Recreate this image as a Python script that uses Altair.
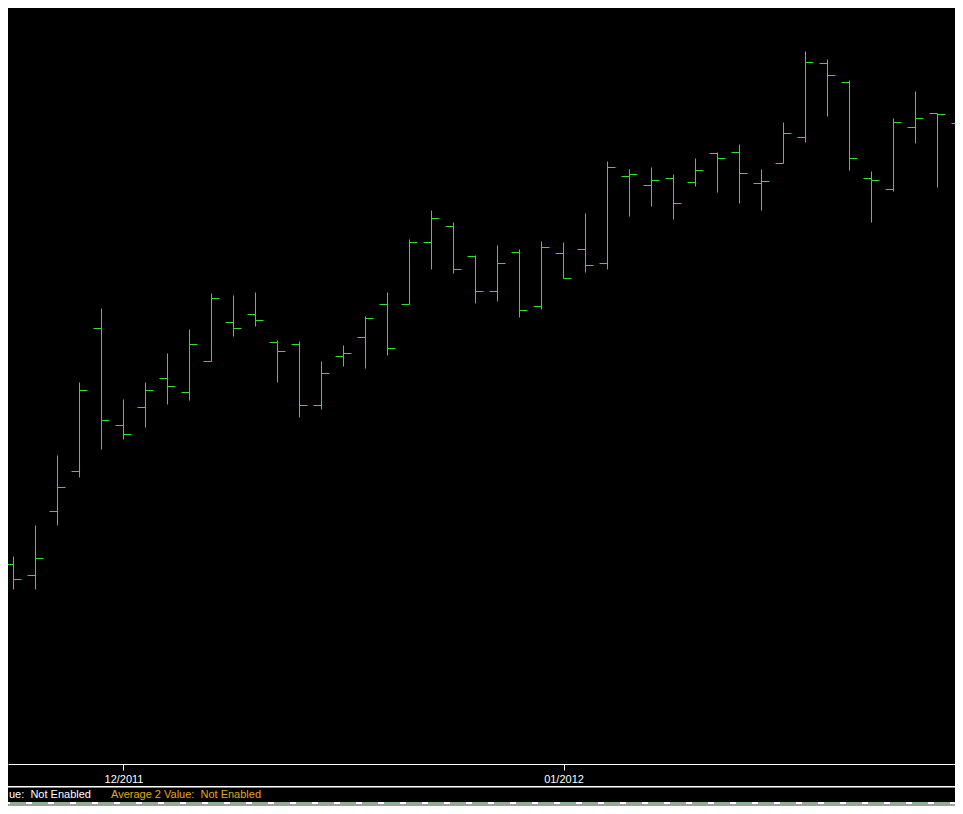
import altair as alt
import pandas as pd

# ---- data ----
bar_index = list(range(44))
opens = [43.5, 42.4, 48.8, 52.8, 67.1, 57.4, 59.2, 62.1, 60.7, 63.8,
         67.7, 68.5, 65.7, 65.5, 59.4, 64.3, 66.2, 69.5, 69.5, 75.7,
         77.3, 74.3, 70.8, 74.7, 69.3, 74.6, 75.0, 73.6, 82.3, 81.4,
         82.1, 81.7, 84.6, 84.7, 81.6, 83.6, 86.2, 93.6, 91.7, 82.1,
         81.0, 87.2, 88.6, 87.6]
highs = [44.3, 47.4, 54.4, 61.7, 69.1, 60.0, 61.7, 64.6, 67.0, 70.6,
         70.4, 70.7, 65.9, 65.8, 63.8, 65.4, 68.3, 70.7, 76.0, 78.9,
         77.7, 74.4, 75.4, 75.0, 75.8, 75.7, 78.6, 83.8, 83.0, 83.2,
         82.5, 84.1, 84.7, 85.5, 83.0, 87.7, 94.8, 94.0, 91.9, 82.8,
         88.1, 90.8, 88.6, 90.2]
lows = [41.0, 41.0, 47.4, 52.2, 55.0, 56.0, 57.2, 59.5, 59.9, 63.8,
        66.3, 67.3, 61.7, 58.2, 59.0, 63.3, 63.1, 64.4, 69.5, 73.0,
        72.6, 69.6, 69.8, 68.2, 69.0, 72.1, 72.7, 73.0, 78.3, 79.3,
        78.0, 81.3, 80.7, 79.6, 78.9, 83.6, 85.7, 88.3, 82.9, 77.7,
        80.8, 85.6, 81.2, 86.2]
closes = [42.0, 44.1, 51.2, 60.9, 57.9, 56.5, 60.9, 61.3, 65.5, 70.1,
          67.1, 67.9, 64.8, 59.4, 62.6, 64.6, 68.1, 65.1, 75.7, 78.1,
          73.0, 70.8, 73.6, 68.9, 75.2, 72.1, 73.4, 83.2, 82.5, 81.9,
          79.6, 82.9, 84.1, 82.6, 81.8, 86.6, 93.7, 92.4, 84.1, 81.9,
          87.7, 88.1, 88.5, 88.1]
tick_index = [5, 25]
tick_labels = ["12/2011", "01/2012"]
status_labels = ["ue:\u00a0 Not Enabled", "Average 2 Value:\u00a0 Not Enabled"]
status_colors = ["#ffffff", "#e0a818"]

df = pd.DataFrame({"i": bar_index, "open": opens, "high": highs,
                   "low": lows, "close": closes})

GREEN = "#33dd33"
W, H = 947, 756
BAR_STEP = 22.0
TICK_LEN = 8.0 / BAR_STEP
HALF_PX = 0.5 / BAR_STEP
FONT = "Liberation Sans"

x_scale = alt.Scale(domain=[-0.25, -0.25 + W / BAR_STEP], nice=False, zero=False)
y_scale = alt.Scale(domain=[23.55, 99.15], nice=False, zero=False)

label_expr = ""
for v, lab in zip(tick_index, tick_labels):
    label_expr += f"datum.value == {v} ? '{lab}' : "
label_expr += "''"

x_axis = alt.Axis(values=tick_index, labelExpr=label_expr, title=None, grid=False,
                  domainColor="#ffffff", domainWidth=1, tickColor="#ffffff",
                  tickSize=6, tickWidth=1, labelColor="#ffffff", labelFont=FONT,
                  labelFontSize=11, labelPadding=3, labelFlush=False,
                  labelOverlap=False)

base = alt.Chart(df)

# high-low stems as 1px-wide rects
hl = base.transform_calculate(
    sl=f"datum.i - {HALF_PX}", sr=f"datum.i + {HALF_PX}"
).mark_rect(color=GREEN, clip=True).encode(
    x=alt.X("sl:Q", scale=x_scale, axis=x_axis),
    x2="sr:Q",
    y=alt.Y("low:Q", scale=y_scale, axis=None),
    y2="high:Q",
)

open_tick = base.transform_calculate(xl=f"datum.i - {TICK_LEN}").mark_rule(
    color=GREEN, strokeWidth=1, clip=True).encode(
    x=alt.X("xl:Q", scale=x_scale, axis=x_axis),
    x2="i:Q",
    y=alt.Y("open:Q", scale=y_scale, axis=None),
)

close_tick = base.transform_calculate(xr=f"datum.i + {TICK_LEN}").mark_rule(
    color=GREEN, strokeWidth=1, clip=True).encode(
    x=alt.X("i:Q", scale=x_scale, axis=x_axis),
    x2="xr:Q",
    y=alt.Y("close:Q", scale=y_scale, axis=None),
)

one = pd.DataFrame({"k": [0]})

sep_white = alt.Chart(one).mark_rule(color="#ffffff", strokeWidth=1).encode(
    x=alt.value(0), x2=alt.value(W), y=alt.value(778.5))
sep_gray = alt.Chart(one).mark_rule(color="#808080", strokeWidth=1).encode(
    x=alt.value(0), x2=alt.value(W), y=alt.value(779.5))

status1 = alt.Chart(pd.DataFrame({"t": [status_labels[0]]})).mark_text(
    align="left", baseline="middle", font=FONT, fontSize=11,
    color=status_colors[0]).encode(x=alt.value(1), y=alt.value(787), text="t:N")
status2 = alt.Chart(pd.DataFrame({"t": [status_labels[1]]})).mark_text(
    align="left", baseline="middle", font=FONT, fontSize=11,
    color=status_colors[1]).encode(x=alt.value(103), y=alt.value(787), text="t:N")

led_white = alt.Chart(one).mark_rule(color="#ffffff", strokeWidth=2).encode(
    x=alt.value(0), x2=alt.value(W), y=alt.value(795))
led_green = alt.Chart(one).mark_rule(color="#86b886", strokeWidth=2,
                                     strokeDash=[16, 6]).encode(
    x=alt.value(2), x2=alt.value(W), y=alt.value(795))
hatch = alt.Chart(one).mark_rect(color="#a0a0a0").encode(
    x=alt.value(0), x2=alt.value(W), y=alt.value(796), y2=alt.value(798))

chart = alt.layer(
    hl, open_tick, close_tick, sep_white, sep_gray, status1, status2,
    led_white, led_green, hatch
).properties(
    width=W, height=H, background="#000000",
    padding={"left": 0, "right": 0, "top": 0, "bottom": 42},
    autosize=alt.AutoSizeParams(type="none"),
).configure_view(stroke=None)

chart.save("out.html", embed_options={"renderer": "svg", "actions": False})
